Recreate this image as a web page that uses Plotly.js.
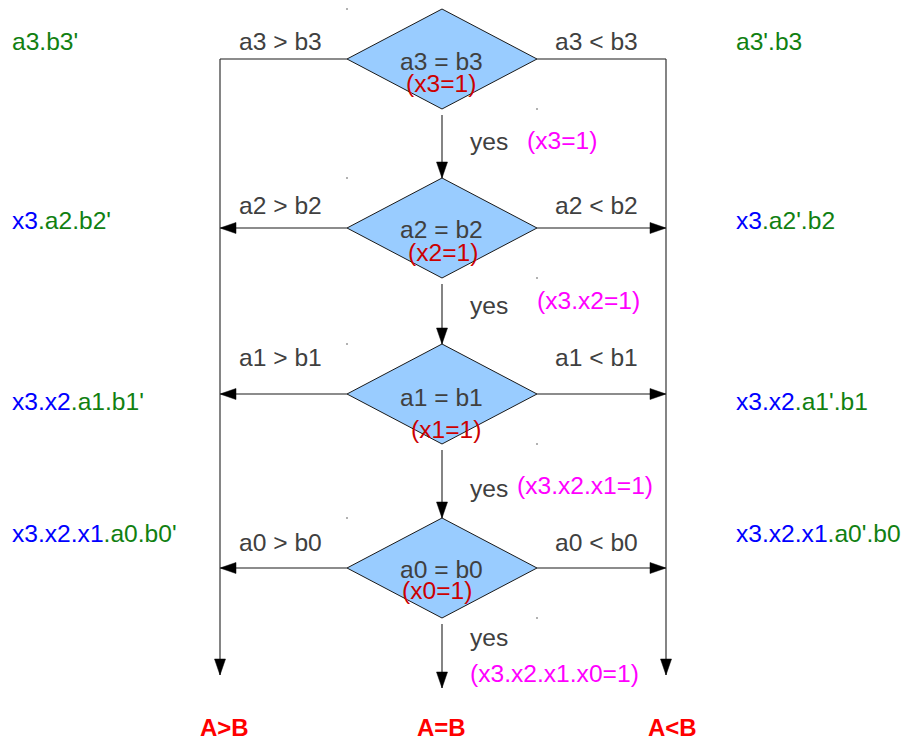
<!DOCTYPE html>
<html>
<head>
<meta charset="utf-8">
<script src="https://cdn.plot.ly/plotly-3.0.1.min.js"></script>
<style>html,body{margin:0;padding:0;background:#fff;}#chart{width:905px;height:742px;}</style>
</head>
<body>
<div id="chart"></div>
<script>
// ---- data ----
const bits = [3, 2, 1, 0];
const rowY = [59, 228, 394, 568];          // decision centres
const compLabelY = [41, 205, 357, 542];    // "ai > bi" / "ai < bi"
const eqY = [61, 229, 397, 569];           // "ai = bi"
const xiY = [83, 252, 429, 590];           // "(xi=1)"
const xiX = [441, 443, 446, 437];
const yesY = [141, 305, 488, 637];
const condY = [140, 300, 485, 673];
const condX = [562, 588, 585, 554];
const sideY = [41, 220, 401, 533];
const condText = ["(x3=1)", "(x3.x2=1)", "(x3.x2.x1=1)", "(x3.x2.x1.x0=1)"];
const leftPrefix = ["", "x3.", "x3.x2.", "x3.x2.x1."];
const resultLabels = ["A>B", "A=B", "A<B"];
const resultX = [224, 441, 672];
const resultY = 727;

// ---- geometry / style ----
const cx = 442, hw = 95, hh = 50;
const railL = 220, railR = 666, railEnd = 675, lastEnd = 688;
const GRAY = "#404040", GREEN = "#118011", BLUE = "#0000ff", MAG = "#ff00ff", DRED = "#cc0000";
const FONT = "Liberation Sans, Arial, sans-serif";
const FS = 24.6;

const shapes = [];
const annotations = [];

function line(x0, y0, x1, y1, color) {
  shapes.push({type: "line", xref: "x", yref: "y", x0, y0, x1, y1,
    line: {color: color || "#1a1a1a", width: 1.2}});
}
function head(tx, ty, dir) { // dir: 'down','left','right'
  const L = 16, W = 5.5;
  let p;
  if (dir === "down") p = `M${tx},${ty} L${tx - W},${ty - L} L${tx + W},${ty - L} Z`;
  else if (dir === "left") p = `M${tx},${ty} L${tx + L},${ty - W} L${tx + L},${ty + W} Z`;
  else p = `M${tx},${ty} L${tx - L},${ty - W} L${tx - L},${ty + W} Z`;
  shapes.push({type: "path", xref: "x", yref: "y", path: p, fillcolor: "#000", line: {color: "#000", width: 0.5}});
}
function text(x, y, t, color, opts) {
  annotations.push(Object.assign({x, y, xref: "x", yref: "y", text: t, showarrow: false,
    xanchor: "center", yanchor: "middle",
    font: {family: FONT, size: FS, color: color}}, opts || {}));
}

const dotX = [], dotY = [];
bits.forEach((b, i) => {
  const y = rowY[i];
  // diamond
  shapes.push({type: "path", xref: "x", yref: "y",
    path: `M${cx},${y - hh} L${cx + hw},${y} L${cx},${y + hh} L${cx - hw},${y} Z`,
    fillcolor: "#99ccff", line: {color: "#1a1a1a", width: 1}});
  dotX.push(cx - hw, cx + hw); dotY.push(y - hh, y + hh);
  // side connections
  line(cx - hw, y, railL, y);
  line(cx + hw, y, railR, y);
  if (i > 0) { head(railL, y, "left"); head(railR, y, "right"); }
  // down arrow
  const yEnd = i < bits.length - 1 ? rowY[i + 1] - hh : lastEnd;
  line(cx, y + hh + 6, cx, yEnd, "#333");
  head(cx, yEnd, "down");
  // texts
  text(280, compLabelY[i], `a${b} &gt; b${b}`, GRAY);
  text(596, compLabelY[i], `a${b} &lt; b${b}`, GRAY);
  text(441, eqY[i], `a${b} = b${b}`, GRAY);
  text(xiX[i], xiY[i], `(x${b}=1)`, DRED);
  text(489, yesY[i], "yes", GRAY);
  text(condX[i], condY[i], condText[i], MAG);
  const pre = leftPrefix[i] ? `<span style="color:${BLUE}">${leftPrefix[i].slice(0, -1)}</span>.` : "";
  text(10, sideY[i], `${pre}a${b}.b${b}'`, GREEN, {xanchor: "left"});
  text(734, sideY[i], `${pre}a${b}'.b${b}`, GREEN, {xanchor: "left"});
});
// rails
line(railL, rowY[0], railL, railEnd, "#333");
line(railR, rowY[0], railR, railEnd, "#333");
head(railL, railEnd, "down");
head(railR, railEnd, "down");

resultLabels.forEach((t, i) => {
  text(resultX[i], resultY, `<b>${t.replace("<", "&lt;").replace(">", "&gt;")}</b>`, "#ff0000", {font: {family: FONT, size: 24, color: "#ff0000"}});
});

const data = [{
  type: "scatter", mode: "markers", x: dotX, y: dotY, hoverinfo: "skip",
  marker: {size: 2, color: "#999"}, showlegend: false
}];

const layout = {
  width: 905, height: 742,
  margin: {l: 0, r: 0, t: 0, b: 0},
  paper_bgcolor: "#fff", plot_bgcolor: "#fff",
  xaxis: {range: [0, 905], visible: false, fixedrange: true},
  yaxis: {range: [742, 0], visible: false, fixedrange: true},
  shapes, annotations, showlegend: false
};
Plotly.newPlot("chart", data, layout, {displayModeBar: false, staticPlot: true});
</script>
</body>
</html>
